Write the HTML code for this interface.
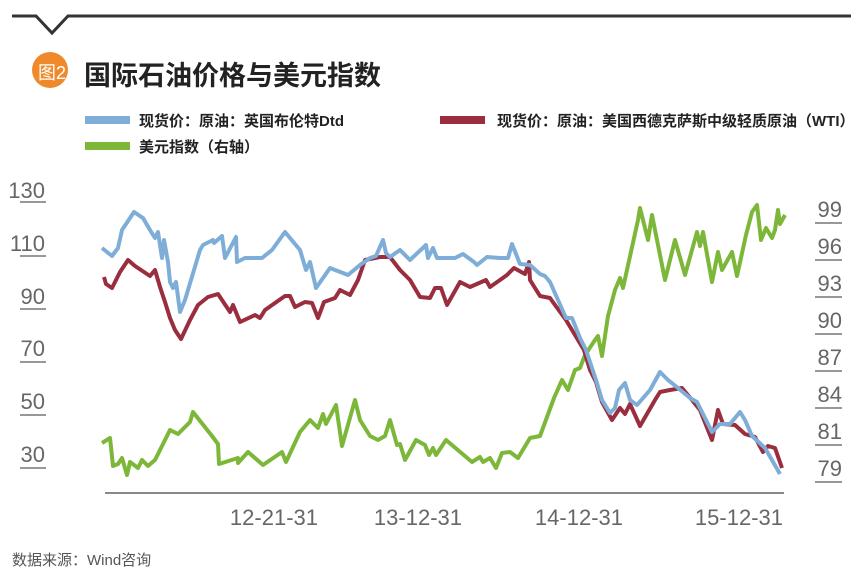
<!DOCTYPE html>
<html><head><meta charset="utf-8"><style>
body{margin:0;width:851px;height:573px;background:#fff;overflow:hidden;position:relative;font-family:"Liberation Sans","Noto Sans CJK SC",sans-serif;}
.t{position:absolute;white-space:nowrap;}
</style></head><body>
<svg width="851" height="573" style="position:absolute;left:0;top:0">
<polyline points="12,16 36,16 52,33 68,16 851,16" fill="none" stroke="#333" stroke-width="3"/>
<circle cx="50" cy="70" r="18" fill="#ef8a2c"/>
<rect x="85" y="116" width="45" height="8" fill="#7eaed8"/>
<rect x="440" y="116" width="45" height="8" fill="#9a2e3e"/>
<rect x="85" y="142" width="45" height="8" fill="#7db73a"/>
<g fill="#666" font-size="22" font-family="Liberation Sans,sans-serif" text-anchor="end">
<text x="45" y="198">130</text><text x="45" y="251">110</text><text x="45" y="304">90</text><text x="45" y="356">70</text><text x="45" y="409">50</text><text x="45" y="462">30</text>
</g>
<g stroke="#777" stroke-width="1.5">
<line x1="20" y1="202" x2="46" y2="202"/><line x1="20" y1="256" x2="46" y2="256"/><line x1="20" y1="309" x2="46" y2="309"/><line x1="20" y1="362" x2="46" y2="362"/><line x1="20" y1="415" x2="46" y2="415"/><line x1="20" y1="468" x2="46" y2="468"/>
<line x1="815" y1="223" x2="842" y2="223"/><line x1="815" y1="260" x2="842" y2="260"/><line x1="815" y1="297" x2="842" y2="297"/><line x1="815" y1="334" x2="842" y2="334"/><line x1="815" y1="371" x2="842" y2="371"/><line x1="815" y1="408" x2="842" y2="408"/><line x1="815" y1="445" x2="842" y2="445"/><line x1="815" y1="482" x2="842" y2="482"/>
</g>
<g fill="#666" font-size="22" font-family="Liberation Sans,sans-serif" text-anchor="end">
<text x="842" y="217">99</text><text x="842" y="254">96</text><text x="842" y="291">93</text><text x="842" y="328">90</text><text x="842" y="365">87</text><text x="842" y="402">84</text><text x="842" y="439">81</text><text x="842" y="476">79</text>
<text x="318" y="525">12-21-31</text><text x="462" y="525">13-12-31</text><text x="623" y="525">14-12-31</text><text x="783" y="525">15-12-31</text>
</g>
<line x1="105" y1="493" x2="784" y2="493" stroke="#888" stroke-width="2"/>
<g fill="none" stroke-width="4" stroke-linejoin="round">
<polyline stroke="#7db73a" points="102,443 110,438 113,466 118,464 122,458 127,475 130,462 138,468 142,460 148,466 155,460 170,430 178,434 190,422 193,412 212,436 218,444 219,464 238,458 238,463 248,452 263,465 282,452 286,462 300,432 310,420 318,428 323,414 326,424 336,405 342,446 355,400 360,420 370,436 378,440 385,436 390,420 397,445 400,444 405,460 416,440 425,445 429,455 433,448 436,455 446,440 472,462 480,457 483,462 490,458 496,468 502,453 510,452 518,458 530,438 540,436 554,398 562,380 568,390 575,370 580,368 585,355 595,340 598,336 602,356 608,316 615,290 620,278 623,288 638,220 640,208 648,240 652,215 660,255 665,280 675,240 685,275 697,232 700,246 703,232 712,282 718,252 722,270 732,252 737,276 746,235 752,212 757,205 761,240 766,228 772,238 775,230 778,210 780,224 785,215"/>
<polyline stroke="#9a2e3e" points="104,277 106,284 112,288 120,272 128,260 135,266 150,276 155,270 160,287 165,302 170,318 175,330 181,339 190,320 198,305 208,297 218,294 230,312 233,305 240,322 255,315 260,318 265,310 285,296 290,296 295,307 305,302 312,303 318,318 324,302 335,298 340,290 350,295 358,280 365,260 375,258 380,257 390,257 400,270 410,280 420,297 430,298 435,288 441,288 447,305 460,282 470,287 486,280 490,287 500,280 507,275 514,268 525,274 529,262 530,280 540,296 550,298 555,305 566,320 578,340 584,350 590,370 596,382 602,402 612,420 620,408 625,414 630,404 640,426 655,400 660,392 670,390 682,388 692,400 700,410 712,440 718,410 723,424 735,425 745,434 755,437 763,452 768,446 775,448 782,468"/>
<polyline stroke="#7eaed8" points="102,248 112,256 118,248 122,230 134,212 143,218 150,230 155,238 158,232 162,258 164,240 168,262 170,282 173,288 176,282 180,312 185,300 200,250 203,245 213,240 214,243 222,236 225,258 236,237 237,262 245,258 262,258 272,250 285,232 300,250 306,270 310,262 316,288 330,268 348,275 360,265 370,258 376,256 383,240 386,253 390,257 400,250 410,260 426,245 428,258 433,248 437,258 455,258 463,254 474,262 477,265 487,257 500,258 508,258 512,244 520,264 530,265 540,274 545,276 550,282 558,300 566,318 572,318 580,338 586,350 590,362 596,380 602,400 610,413 615,408 619,390 625,383 630,400 637,405 650,390 660,372 668,380 678,388 690,398 697,402 712,432 720,424 730,424 740,412 745,420 752,436 765,448 780,474"/>
</g>
</svg>
<div class="t" style="left:38px;top:59px;font-size:18px;color:#fff;">图2</div>
<div class="t" style="left:84px;top:54px;font-size:27px;font-weight:bold;color:#222;">国际石油价格与美元指数</div>
<div class="t" style="left:139px;top:110px;font-size:15px;font-weight:bold;color:#222;">现货价：原油：英国布伦特Dtd</div>
<div class="t" style="left:497px;top:110px;font-size:15px;font-weight:bold;color:#222;">现货价：原油：美国西德克萨斯中级轻质原油（WTI）</div>
<div class="t" style="left:139px;top:136px;font-size:15px;font-weight:bold;color:#222;">美元指数（右轴）</div>
<div class="t" style="left:12px;top:549px;font-size:15px;color:#555;">数据来源：Wind咨询</div>
</body></html>
